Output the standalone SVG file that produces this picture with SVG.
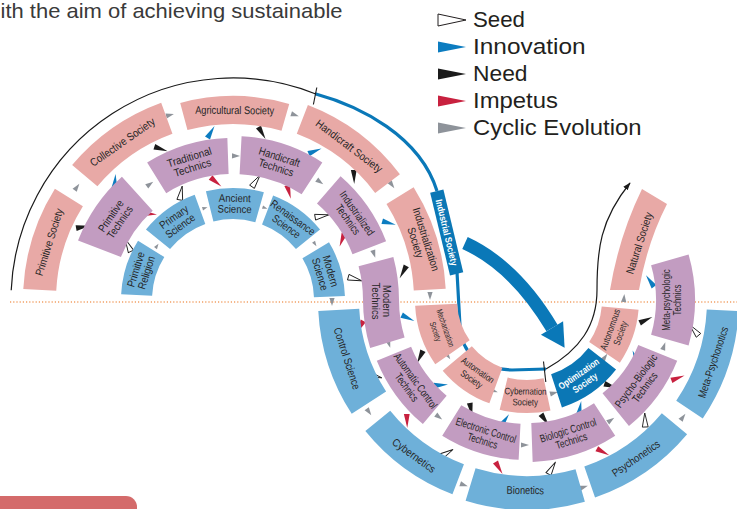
<svg xmlns="http://www.w3.org/2000/svg" width="737" height="509" viewBox="0 0 737 509">
  <style>
    .soc{fill:#e8a9a6}
    .tec{fill:#c29cc1}
    .sci{fill:#6eb0d9}
    .opt{fill:#0b77b5}
    .lb{font-family:"Liberation Sans",Arial,sans-serif;font-size:11px;fill:#252525;text-anchor:middle}
    .s9{font-size:9.5px}
    .s8{font-size:8.5px}
    .wb{fill:#ffffff;font-weight:bold}
    .inn{fill:#0c7cc0}
    .need{fill:#1b1b1b}
    .imp{fill:#c8213f}
    .cyc{fill:#8e939a}
    .seed{fill:#ffffff;stroke:#1b1b1b;stroke-width:0.9}
    .leg{font-family:"Liberation Sans",Arial,sans-serif;font-size:22px;fill:#231f20}
    .ln{fill:none;stroke-linecap:butt}
  </style>
  <defs>
    <polygon id="aw" points="-7,-2.9 7,0 -7,2.9"/>
    <polygon id="ag" points="-4,-2.6 4,0 -4,2.6"/>
    <polygon id="at" points="-2.6,-1.8 2.6,0 -2.6,1.8"/>
    <marker id="tip" viewBox="0 0 10 10" refX="9" refY="5" markerWidth="8" markerHeight="8" orient="auto" markerUnits="userSpaceOnUse">
      <path d="M0,1.5 L10,5 L0,8.5 Z" fill="#1a1a1a"/>
    </marker>
  </defs>

  <rect width="737" height="509" fill="#ffffff"/>

  <!-- header line of running text -->
  <text x="0.5" y="18" font-family="Liberation Sans, Arial, sans-serif" font-size="21" fill="#3a3a3a" textLength="342" lengthAdjust="spacingAndGlyphs">ith the aim of achieving sustainable</text>

  <!-- horizon line -->
  <line x1="10" y1="302" x2="737" y2="302" stroke="#f2a065" stroke-width="1.3" stroke-dasharray="1.2 2"/>

  <!-- bottom tab -->
  <path d="M0,496 H126 A11,11 0 0 1 137,507 V509 H0 Z" fill="#d46b6b"/>

  <!-- legend -->
  <g id="legend">
    <polygon points="438,14 466,20 438,26" fill="#ffffff" stroke="#231f20" stroke-width="1"/>
    <text class="leg" x="473" y="27" textLength="52" lengthAdjust="spacingAndGlyphs">Seed</text>
    <polygon points="438,41.5 466,47 438,52.5" fill="#0c7cc0"/>
    <text class="leg" x="473" y="54" textLength="112.5" lengthAdjust="spacingAndGlyphs">Innovation</text>
    <polygon points="438,68.5 466,74 438,79.5" fill="#1b1b1b"/>
    <text class="leg" x="473" y="81" textLength="54.5" lengthAdjust="spacingAndGlyphs">Need</text>
    <polygon points="438,95.5 466,101 438,106.5" fill="#c8213f"/>
    <text class="leg" x="473" y="108" textLength="85" lengthAdjust="spacingAndGlyphs">Impetus</text>
    <polygon points="438,122.5 466,128 438,133.5" fill="#8e939a"/>
    <text class="leg" x="473" y="135" textLength="168.5" lengthAdjust="spacingAndGlyphs">Cyclic Evolution</text>
  </g>

  <!-- connectors: era lines, big arrow, and relation arrows -->
  <g id="connectors">
    <path class="ln" d="M11.2,290.3 A222,222 0 0 1 315.1,93.7" stroke="#1a1a1a" stroke-width="1.2"/>
    <path class="ln" d="M315.1,93.7 C360,106 420,136 437,191" stroke="#0a78b8" stroke-width="3.2"/>
    <path class="ln" d="M457,272 L460,326 C462,357 482,369 512,370 L546,369" stroke="#0a78b8" stroke-width="3.2"/>
    <path class="ln" d="M546,369 C580,350 597,325 597,290 C597,250 600,220 630,183" stroke="#1a1a1a" stroke-width="1.2" marker-end="url(#tip)"/>
    <line x1="316.8" y1="87.5" x2="313.4" y2="104.5" stroke="#1a1a1a" stroke-width="1.1"/>
    <line x1="543.5" y1="361.5" x2="545.8" y2="382" stroke="#1a1a1a" stroke-width="1.1"/>

    <path class="ln" d="M465,243 Q515,266 552,328" stroke="#0a78b8" stroke-width="13"/>
    <polygon points="540.9,334.8 563.1,321.2 564.6,347.7" fill="#0a78b8"/>

    <!-- Innovation -->
    <use href="#aw" class="inn" transform="translate(115,181) rotate(-85)"/>
    <use href="#aw" class="inn" transform="translate(211,132) rotate(-60)"/>
    <use href="#aw" class="inn" transform="translate(315,151) rotate(-22)"/>
    <use href="#aw" class="inn" transform="translate(389,223) rotate(15)"/>
    <use href="#aw" class="inn" transform="translate(408,318) rotate(25)"/>
    <use href="#aw" class="inn" transform="translate(441,385) rotate(-5)"/>
    <use href="#aw" class="inn" transform="translate(505,420) rotate(-55)"/>
    <use href="#aw" class="inn" transform="translate(580,408) rotate(-80)"/>
    <use href="#aw" class="inn" transform="translate(635,357) rotate(-110)"/>
    <use href="#aw" class="inn" transform="translate(650,281) rotate(-125)"/>

    <!-- Need -->
    <use href="#aw" class="need" transform="translate(83,227) rotate(-10)"/>
    <use href="#aw" class="need" transform="translate(161,149) rotate(18)"/>
    <use href="#aw" class="need" transform="translate(262,133) rotate(60)"/>
    <use href="#aw" class="need" transform="translate(354,177) rotate(88)"/>
    <use href="#aw" class="need" transform="translate(403,272) rotate(118)"/>
    <use href="#aw" class="need" transform="translate(420,357) rotate(115)"/>
    <use href="#aw" class="need" transform="translate(471,410) rotate(80)"/>
    <use href="#aw" class="need" transform="translate(545,420) rotate(55)"/>
    <use href="#aw" class="need" transform="translate(611,386) rotate(18)"/>
    <use href="#aw" class="need" transform="translate(646,320) rotate(-25)"/>

    <!-- Impetus -->
    <use href="#aw" class="imp" transform="translate(150,214) rotate(5)"/>
    <use href="#aw" class="imp" transform="translate(216,182) rotate(40)"/>
    <use href="#aw" class="imp" transform="translate(289,192) rotate(75)"/>
    <use href="#aw" class="imp" transform="translate(342,240) rotate(110)"/>
    <use href="#aw" class="imp" transform="translate(360,327) rotate(118)"/>
    <use href="#aw" class="imp" transform="translate(407,421) rotate(88)"/>
    <use href="#aw" class="imp" transform="translate(499,468) rotate(60)"/>
    <use href="#aw" class="imp" transform="translate(603,452) rotate(28)"/>
    <use href="#aw" class="imp" transform="translate(678,378) rotate(-20)"/>

    <!-- Seed -->
    <use href="#aw" class="seed" transform="translate(128,245) rotate(-115)"/>
    <use href="#aw" class="seed" transform="translate(181,193) rotate(-80)"/>
    <use href="#aw" class="seed" transform="translate(256,181) rotate(-55)"/>
    <use href="#aw" class="seed" transform="translate(322,216) rotate(-10)"/>
    <use href="#aw" class="seed" transform="translate(355,279) rotate(15)"/>
    <use href="#aw" class="seed" transform="translate(375,376) rotate(15)"/>
    <use href="#aw" class="seed" transform="translate(447,453) rotate(-30)"/>
    <use href="#aw" class="seed" transform="translate(552,468) rotate(-60)"/>
    <use href="#aw" class="seed" transform="translate(645,420) rotate(-92)"/>
    <use href="#aw" class="seed" transform="translate(694,330) rotate(-130)"/>

    <!-- Cyclic evolution -->
    <use href="#ag" class="cyc" transform="translate(77,187) rotate(-54)"/>
    <use href="#ag" class="cyc" transform="translate(170,115) rotate(-15)"/>
    <use href="#ag" class="cyc" transform="translate(295,115) rotate(18)"/>
    <use href="#ag" class="cyc" transform="translate(392,185) rotate(54)"/>
    <use href="#ag" class="cyc" transform="translate(430,296) rotate(90)"/>
    <use href="#ag" class="cyc" transform="translate(150,184) rotate(-36)"/>
    <use href="#ag" class="cyc" transform="translate(236,156) rotate(1)"/>
    <use href="#ag" class="cyc" transform="translate(320,182) rotate(36)"/>
    <use href="#ag" class="cyc" transform="translate(374,254) rotate(72)"/>
    <use href="#ag" class="cyc" transform="translate(389,344) rotate(72)"/>
    <use href="#ag" class="cyc" transform="translate(439,417) rotate(37)"/>
    <use href="#ag" class="cyc" transform="translate(525,445) rotate(0)"/>
    <use href="#ag" class="cyc" transform="translate(611,420) rotate(-35)"/>
    <use href="#ag" class="cyc" transform="translate(664,346) rotate(-71)"/>
    <use href="#ag" class="cyc" transform="translate(448,356) rotate(55)"/>
    <use href="#ag" class="cyc" transform="translate(494,391) rotate(20)"/>
    <use href="#ag" class="cyc" transform="translate(554,393) rotate(-16)"/>
    <use href="#ag" class="cyc" transform="translate(605,357) rotate(-54)"/>
    <use href="#ag" class="cyc" transform="translate(624,298) rotate(-85)"/>
    <use href="#ag" class="cyc" transform="translate(332,302) rotate(90)"/>
    <use href="#ag" class="cyc" transform="translate(369,412) rotate(55)"/>
    <use href="#ag" class="cyc" transform="translate(464,485) rotate(19)"/>
    <use href="#ag" class="cyc" transform="translate(584,487) rotate(-17)"/>
    <use href="#ag" class="cyc" transform="translate(683,417) rotate(-53)"/>
    <use href="#at" class="cyc" transform="translate(157,246) rotate(-55)"/>
    <use href="#at" class="cyc" transform="translate(205,208) rotate(-17)"/>
    <use href="#at" class="cyc" transform="translate(265,208) rotate(19)"/>
    <use href="#at" class="cyc" transform="translate(315,244) rotate(56)"/>
  </g>

  <!-- Industrial Society era tag -->
  <g id="industrial-society" transform="translate(446.7,232.5) rotate(76.5)">
    <rect x="-42.5" y="-6.8" width="85" height="13.6" fill="#0b77b5"/>
    <text class="lb s9 wb" transform="scale(0.86,1)" x="0" y="3.3">Industrial Society</text>
  </g>

  <!-- science ring, upper half -->
  <g id="primitive-religion"><path class="sci" d="M121.15,294.14 A112,112 0 0 1 138.02,240.65 L164.31,257.08 A81,81 0 0 0 152.11,295.76 Z"/>
    <text class="lb" transform="translate(141,271) rotate(-72.5) scale(0.86,1)"><tspan x="0" y="-1.6">Primitive</tspan><tspan x="0" y="9.4">Religion</tspan></text></g>
  <g id="primary-science"><path class="sci" d="M145.96,229.52 A112,112 0 0 1 194.69,194.75 L205.30,223.89 A81,81 0 0 0 170.05,249.03 Z"/>
    <text class="lb" transform="translate(177,221.4) rotate(-35.5) scale(0.86,1)"><tspan x="0" y="-1.6">Primary</tspan><tspan x="0" y="9.4">Science</tspan></text></g>
  <g id="ancient-science"><path class="sci" d="M205.90,191.33 A112,112 0 0 1 263.87,192.34 L255.33,222.14 A81,81 0 0 0 213.40,221.41 Z"/>
    <text class="lb" transform="translate(234.7,203.5) rotate(1) scale(0.87,1)"><tspan x="0" y="-1.6">Ancient</tspan><tspan x="0" y="9.4">Science</tspan></text></g>
  <g id="renaissance-science"><path class="sci" d="M273.14,195.44 A112,112 0 0 1 320.04,229.52 L295.95,249.03 A81,81 0 0 0 262.03,224.38 Z"/>
    <text class="lb" transform="translate(289.7,221.9) rotate(36) scale(0.82,1)"><tspan x="0" y="-1.6">Renaissance</tspan><tspan x="0" y="9.4">Science</tspan></text></g>
  <g id="modern-science"><path class="sci" d="M329.0,242.32 A112,112 0 0 1 344.93,296.09 L313.95,297.17 A81,81 0 0 0 302.43,258.28 Z"/>
    <text class="lb" transform="translate(325.5,272.6) rotate(73.5) scale(0.86,1)"><tspan x="0" y="-1.6">Modern</tspan><tspan x="0" y="9.4">Science</tspan></text></g>

  <!-- technics ring, upper half -->
  <g id="primitive-technics"><path class="tec" d="M78.03,240.51 A166,166 0 0 1 121.92,176.64 L152.70,210.82 A120,120 0 0 0 120.97,257.0 Z"/>
    <text class="lb" transform="translate(115.2,219) rotate(-55.5) scale(0.86,1)"><tspan x="0" y="-1.6">Primitive</tspan><tspan x="0" y="9.4">Technics</tspan></text></g>
  <g id="traditional-technics"><path class="tec" d="M147.15,162.62 A162,162 0 0 1 227.35,138.10 L228.60,174.08 A126,126 0 0 0 166.23,193.15 Z"/>
    <text class="lb" transform="translate(190.9,162.3) rotate(-17) scale(0.9,1)"><tspan x="0" y="-1.6">Traditional</tspan><tspan x="0" y="9.4">Technics</tspan></text></g>
  <g id="handicraft-technics"><path class="tec" d="M241.58,136.22 A164,164 0 0 1 322.32,162.46 L301.62,194.33 A126,126 0 0 0 239.59,174.17 Z"/>
    <text class="lb" transform="translate(277.8,162.1) rotate(18) scale(0.85,1)"><tspan x="0" y="-1.6">Handicraft</tspan><tspan x="0" y="9.4">Technics</tspan></text></g>
  <g id="industrialized-technics"><path class="tec" d="M340.59,176.23 A164,164 0 0 1 386.11,241.23 L352.50,254.13 A128,128 0 0 0 316.98,203.40 Z"/>
    <text class="lb" transform="translate(352.6,216.3) rotate(55) scale(0.8,1)"><tspan x="0" y="-1.6">Industrialized</tspan><tspan x="0" y="9.4">Technics</tspan></text></g>
  <g id="modern-technics"><path class="tec" d="M358.57,266.35 A130,130 0 0 1 363,300 A164,164 0 0 0 370.17,347.95 L404.59,337.42 A128,128 0 0 1 399,300 A166,166 0 0 0 393.34,257.04 Z"/>
    <text class="lb" transform="translate(381.5,301) rotate(90) scale(0.86,1)"><tspan x="0" y="-1.6">Modern</tspan><tspan x="0" y="9.4">Technics</tspan></text></g>

  <!-- society ring, upper half -->
  <g id="primitive-society"><path class="soc" d="M23.29,289.01 A210,210 0 0 1 54.91,188.72 L82.90,206.20 A177,177 0 0 0 56.24,290.74 Z"/>
    <text class="lb" transform="translate(48.9,242) rotate(-72.5) scale(0.86,1)" y="4">Primitive Society</text></g>
  <g id="collective-society"><path class="soc" d="M72.13,165.01 A210,210 0 0 1 161.18,102.67 L172.46,133.67 A177,177 0 0 0 97.41,186.23 Z"/>
    <text class="lb" transform="translate(122.3,141.9) rotate(-35) scale(0.88,1)" y="4">Collective Society</text></g>
  <g id="agricultural-society"><path class="soc" d="M180.20,102.95 A204,204 0 0 1 289.23,103.90 L281.51,130.82 A176,176 0 0 0 187.45,130.0 Z"/>
    <text class="lb" transform="translate(234.7,110) rotate(0.5) scale(0.84,1)" y="4">Agricultural Society</text></g>
  <g id="handicraft-society"><path class="soc" d="M307.90,104.88 A209,209 0 0 1 399.92,174.22 L375.16,192.88 A178,178 0 0 0 296.79,133.82 Z"/>
    <text class="lb" transform="translate(349.2,145.9) rotate(37) scale(0.9,1)" y="4">Handicraft Society</text></g>
  <g id="industrialization-society"><path class="soc" d="M413.63,187.13 A213,213 0 0 1 445.71,288.85 L413.75,290.53 A181,181 0 0 0 386.50,204.08 Z"/>
    <text class="lb" transform="translate(420.9,240.8) rotate(72.5) scale(0.86,1)"><tspan x="0" y="-1.6">Industrialization</tspan><tspan x="0" y="9.4">Society</tspan></text></g>

  <!-- science ring, lower half -->
  <g id="control-science"><path class="sci" d="M351.72,413.83 A209,209 0 0 1 318.29,310.94 L359.23,308.79 A168,168 0 0 0 386.10,391.50 Z"/>
    <text class="lb" transform="translate(347.3,358.4) rotate(72) scale(0.83,1)" y="4">Control Science</text></g>
  <g id="cybernetics"><path class="sci" d="M452.46,494.18 A208,208 0 0 1 365.35,430.90 L390.22,410.76 A176,176 0 0 0 463.93,464.31 Z"/>
    <text class="lb" transform="translate(414.1,455.3) rotate(36) scale(0.87,1)" y="4">Cybernetics</text></g>
  <g id="bionetics"><path class="sci" d="M584.88,501.86 A210,210 0 0 1 465.60,500.82 L475.54,468.31 A176,176 0 0 0 575.51,469.18 Z"/>
    <text class="lb" transform="translate(525.3,490) rotate(0.5) scale(0.84,1)" y="4">Bionetics</text></g>
  <g id="psychonetics"><path class="sci" d="M687.10,434.34 A209,209 0 0 1 595.04,497.61 L584.30,466.41 A176,176 0 0 0 661.82,413.13 Z"/>
    <text class="lb" transform="translate(635.8,458.2) rotate(-34.5) scale(0.86,1)" y="4">Psychonetics</text></g>
  <g id="meta-psychonotics"><path class="sci" d="M738.71,311.10 A212,212 0 0 1 702.76,418.55 L676.23,400.65 A180,180 0 0 0 706.75,309.42 Z"/>
    <text class="lb" transform="translate(712.9,362.2) rotate(-71.5) scale(0.8,1)" y="4">Meta-Psychonotics</text></g>

  <!-- technics ring, lower half -->
  <g id="automatic-control-technics"><path class="tec" d="M422.87,424.10 A162,162 0 0 1 376.80,360.69 L411.10,346.83 A125,125 0 0 0 446.65,395.76 Z"/>
    <text class="lb" transform="translate(411.3,384) rotate(54) scale(0.75,1)"><tspan x="0" y="-1.6">Automatic Control</tspan><tspan x="0" y="9.4">Technics</tspan></text></g>
  <g id="electronic-control-technics"><path class="tec" d="M518.63,459.78 A160,160 0 0 1 442.21,435.69 L461.29,405.16 A124,124 0 0 0 520.51,423.83 Z"/>
    <text class="lb" transform="translate(484.3,435.4) rotate(17.5) scale(0.72,1)"><tspan x="0" y="-1.6">Electronic Control</tspan><tspan x="0" y="9.4">Technics</tspan></text></g>
  <g id="biologic-control-technics"><path class="tec" d="M615.23,435.86 A162,162 0 0 1 532.65,461.90 L531.29,422.92 A123,123 0 0 0 593.99,403.16 Z"/>
    <text class="lb" transform="translate(569.7,435.4) rotate(-17.5) scale(0.76,1)"><tspan x="0" y="-1.6">Biologic Control</tspan><tspan x="0" y="9.4">Technics</tspan></text></g>
  <g id="psycho-biologic-technics"><path class="tec" d="M677.20,360.69 A162,162 0 0 1 628.95,425.90 L602.52,393.26 A120,120 0 0 0 638.26,344.95 Z"/>
    <text class="lb" transform="translate(640.3,383.9) rotate(-53.5) scale(0.81,1)"><tspan x="0" y="-1.6">Psycho-Biologic</tspan><tspan x="0" y="9.4">Technics</tspan></text></g>
  <g id="meta-psychologic-technics"><path class="tec" d="M688.6,254.52 A165,165 0 0 1 688.6,345.48 L651.1,334.73 A126,126 0 0 0 651.1,265.27 Z"/>
    <text class="lb" transform="translate(671.5,300) rotate(-90) scale(0.72,1)"><tspan x="0" y="-1.6">Meta-psychologic</tspan><tspan x="0" y="9.4">Technics</tspan></text></g>

  <!-- society ring, lower half -->
  <g id="mechanization-society"><path class="soc" d="M435.26,364.24 A112,112 0 0 1 415.15,305.86 L457.10,303.66 A70,70 0 0 0 469.66,340.15 Z"/>
    <text class="lb s8" transform="translate(441,329.6) rotate(71) scale(0.72,1)"><tspan x="0" y="-1.8">Mechanization</tspan><tspan x="0" y="8.6">Society</tspan></text></g>
  <g id="automation-society"><path class="soc" d="M489.38,403.37 A110,110 0 0 1 442.74,370.71 L471.84,346.28 A72,72 0 0 0 502.37,367.66 Z"/>
    <text class="lb s9" transform="translate(474.8,374.5) rotate(35) scale(0.79,1)"><tspan x="0" y="-2">Automation</tspan><tspan x="0" y="8.9">Society</tspan></text></g>
  <g id="cybernation-society"><path class="soc" d="M550.49,410.53 A113,113 0 0 1 499.66,409.64 L507.65,377.62 A80,80 0 0 0 543.63,378.25 Z"/>
    <text class="lb s9" transform="translate(525.3,396.5) rotate(1) scale(0.82,1)"><tspan x="0" y="-2">Cybernation</tspan><tspan x="0" y="8.9">Society</tspan></text></g>
  <g id="optimization-society"><path class="opt" d="M616.05,369.57 A113,113 0 0 1 561.92,407.47 L551.10,374.18 A78,78 0 0 0 588.46,348.02 Z"/>
    <text class="lb s9 wb" transform="translate(581.8,378.2) rotate(-35) scale(0.82,1)"><tspan x="0" y="-2">Optimization</tspan><tspan x="0" y="8.9">Society</tspan></text></g>
  <g id="autonomous-society"><path class="soc" d="M638.57,309.76 A112,112 0 0 1 619.85,362.63 L589.18,341.94 A75,75 0 0 0 601.71,306.54 Z"/>
    <text class="lb s9" transform="translate(615.1,331.2) rotate(-70.5) scale(0.8,1)"><tspan x="0" y="-2">Autonomous</tspan><tspan x="0" y="8.9">Society</tspan></text></g>
  <g id="natural-society"><path class="soc" d="M610,290 L639,290 Q647,243 667,204 L642,189 Q619,236 610,290 Z"/>
    <text class="lb" transform="translate(639,243) rotate(-72) scale(0.86,1)" y="4">Natural Society</text></g>
</svg>
